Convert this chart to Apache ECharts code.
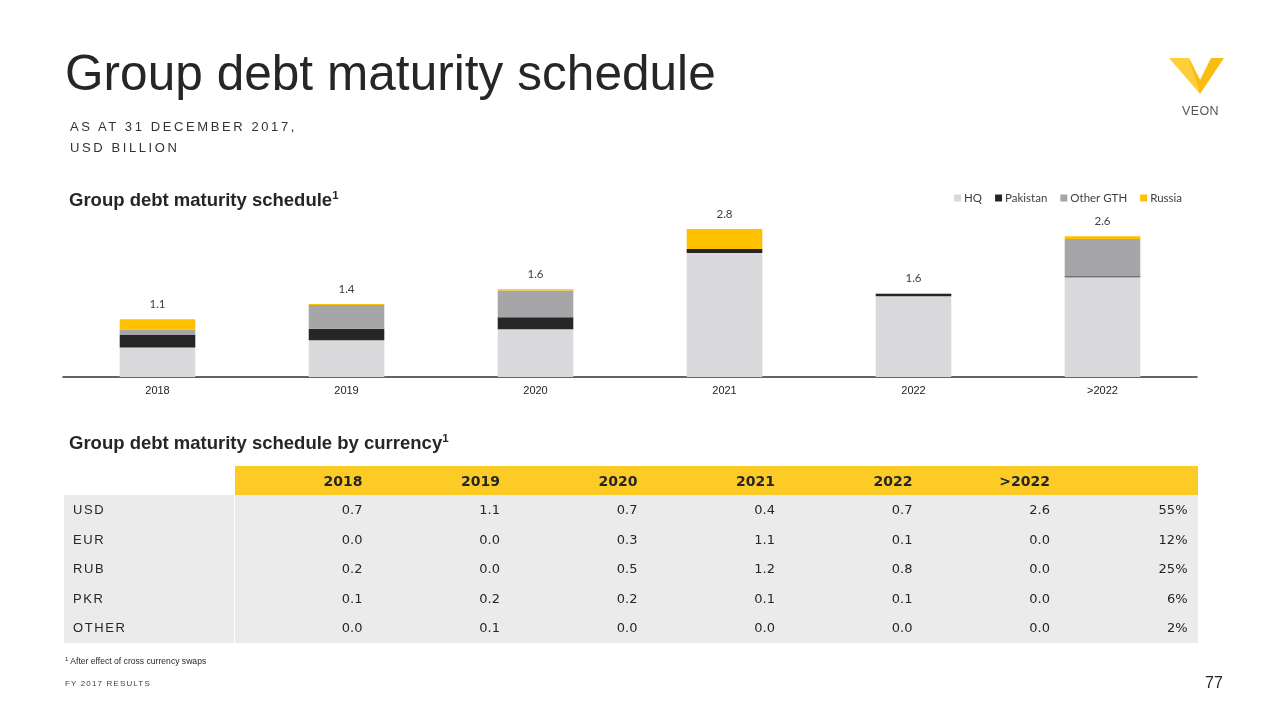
<!DOCTYPE html>
<html>
<head>
<meta charset="utf-8">
<script src="https://cdn.jsdelivr.net/npm/echarts@6/dist/echarts.min.js"></script>
<style>
  html, body { margin:0; padding:0; background:#fff; }
  #page { position:relative; width:1280px; height:720px; overflow:hidden; font-family:"Liberation Sans", Arial, sans-serif; color:#262626; }
  #chart { position:absolute; left:0; top:0; width:1280px; height:720px; }
  .abs { position:absolute; white-space:nowrap; }
  #title { left:65px; top:44px; font-size:49.5px; color:#262626; letter-spacing:0.05px; }
  .sub { left:70px; font-size:13px; letter-spacing:2.6px; color:#333; }
  .h2 { left:69px; font-size:18.5px; font-weight:bold; color:#262626; }
  .h2 sup { font-size:11.5px; vertical-align:7px; line-height:0; }
  #tbl { position:absolute; left:64px; top:466px; border-collapse:collapse; font-family:"DejaVu Sans", Verdana, sans-serif; font-size:13px; color:#262626; }
  #tbl td { padding:0 10px 0 0; height:29.5px; text-align:right; width:127.5px; }
  #tbl tr.hd td { background:#FDCB25; font-weight:bold; font-size:14px; height:29px; }
  #tbl tr.hd td.blank { background:#fff; }
  #tbl tr.bd td { background:#EBEBEB; }
  #tbl td.lab { width:161px; padding:0 0 0 9px; text-align:left; font-family:"Liberation Sans", Arial, sans-serif; letter-spacing:1.6px; font-size:13px; border-right:1px solid #fff; }
  #foot { left:65px; top:656px; font-size:8.6px; color:#262626; }
  #foot sup { font-size:6px; vertical-align:3px; line-height:0; }
  #fy { left:65px; top:679px; font-size:8px; letter-spacing:1.15px; color:#404040; }
  #pg { left:1205px; top:674px; font-size:16px; color:#262626; }
  #veon { left:1182px; top:104px; font-size:12.5px; color:#555; letter-spacing:0.4px; }
</style>
</head>
<body>
<div id="page">
  <div id="chart"></div>
  <div class="abs" id="title">Group debt maturity schedule</div>
  <div class="abs sub" style="top:119px;">AS AT 31 DECEMBER 2017,</div>
  <div class="abs sub" style="top:140px;">USD BILLION</div>
  <div class="abs h2" style="top:189px;">Group debt maturity schedule<sup>1</sup></div>
  <div class="abs h2" style="top:432px;">Group debt maturity schedule by currency<sup>1</sup></div>
  <table id="tbl"></table>
  <div class="abs" id="foot"><sup>1</sup> After effect of cross currency swaps</div>
  <div class="abs" id="fy">FY 2017 RESULTS</div>
  <div class="abs" id="pg">77</div>
  <svg class="abs" style="left:1165px;top:54px;" width="64" height="46" viewBox="0 0 64 46">
    <polygon points="4,4 24,4 35,26 35,40 " fill="#FFCF3A"/>
    <polygon points="24,4 35,26 46,4 59,4 35,40" fill="#F9BD12"/>
  </svg>
  <div class="abs" id="veon">VEON</div>
</div>
<script>
// ---- Data ----
var categories = ['2018', '2019', '2020', '2021', '2022', '>2022'];
var hq        = [0.56, 0.70, 0.91, 2.36, 1.54, 1.90];
var pakistan  = [0.24, 0.22, 0.23, 0.08, 0.04, 0.02];
var otherGTH  = [0.10, 0.45, 0.51, 0.00, 0.00, 0.71];
var russia    = [0.20, 0.02, 0.02, 0.38, 0.02, 0.05];
var totals    = ['1.1', '1.4', '1.6', '2.8', '1.6', '2.6'];

var tableYears = ['2018', '2019', '2020', '2021', '2022', '>2022', ''];
var currencies = ['USD', 'EUR', 'RUB', 'PKR', 'OTHER'];
var usdRow   = ['0.7', '1.1', '0.7', '0.4', '0.7', '2.6', '55%'];
var eurRow   = ['0.0', '0.0', '0.3', '1.1', '0.1', '0.0', '12%'];
var rubRow   = ['0.2', '0.0', '0.5', '1.2', '0.8', '0.0', '25%'];
var pkrRow   = ['0.1', '0.2', '0.2', '0.1', '0.1', '0.0', '6%'];
var otherRow = ['0.0', '0.1', '0.0', '0.0', '0.0', '0.0', '2%'];

// ---- Table ----
var rows = [usdRow, eurRow, rubRow, pkrRow, otherRow];
var html = '<tr class="hd"><td class="blank lab" style="border-right:none"></td>';
tableYears.forEach(function (y) { html += '<td>' + y + '</td>'; });
html += '</tr>';
rows.forEach(function (r, i) {
  html += '<tr class="bd"><td class="lab">' + currencies[i] + '</td>';
  r.forEach(function (v) { html += '<td>' + v + '</td>'; });
  html += '</tr>';
});
document.getElementById('tbl').innerHTML = html;

// ---- Chart ----
var chart = echarts.init(document.getElementById('chart'));
var colors = ['#D9D9DB', '#262626', '#A6A6A8', '#FFC000'];
function bar(name, data, extra) {
  var s = { name: name, type: 'bar', stack: 'total', data: data, barWidth: '40%' };
  return Object.assign(s, extra || {});
}
chart.setOption({
  animation: false,
  color: colors,
  textStyle: { fontFamily: 'Liberation Sans, Arial, sans-serif' },
  legend: {
    right: 93, top: 187,
    icon: 'rect', itemWidth: 7, itemHeight: 7, itemGap: 13,
    textStyle: { fontFamily: 'Lato, sans-serif', fontSize: 11.5, color: '#404040', padding: [0, 0, 0, -2] },
    data: ['HQ', 'Pakistan', 'Other GTH', 'Russia']
  },
  grid: { left: 63, right: 83, top: 219.5, height: 157.5 },
  xAxis: {
    type: 'category', data: categories,
    axisLine: { lineStyle: { color: '#333', width: 1.5 } },
    axisTick: { show: false },
    axisLabel: { fontSize: 11, color: '#222', margin: 8 }
  },
  yAxis: { type: 'value', min: 0, max: 3, show: false, splitLine: { show: false } },
  series: [
    bar('HQ', hq),
    bar('Pakistan', pakistan),
    bar('Other GTH', otherGTH),
    bar('Russia', russia, {
      label: {
        show: true, position: 'top', distance: 9,
        fontFamily: 'Lato, sans-serif', fontSize: 11.5, color: '#404040',
        formatter: function (p) { return totals[p.dataIndex]; }
      }
    })
  ]
});
</script>
</body>
</html>
